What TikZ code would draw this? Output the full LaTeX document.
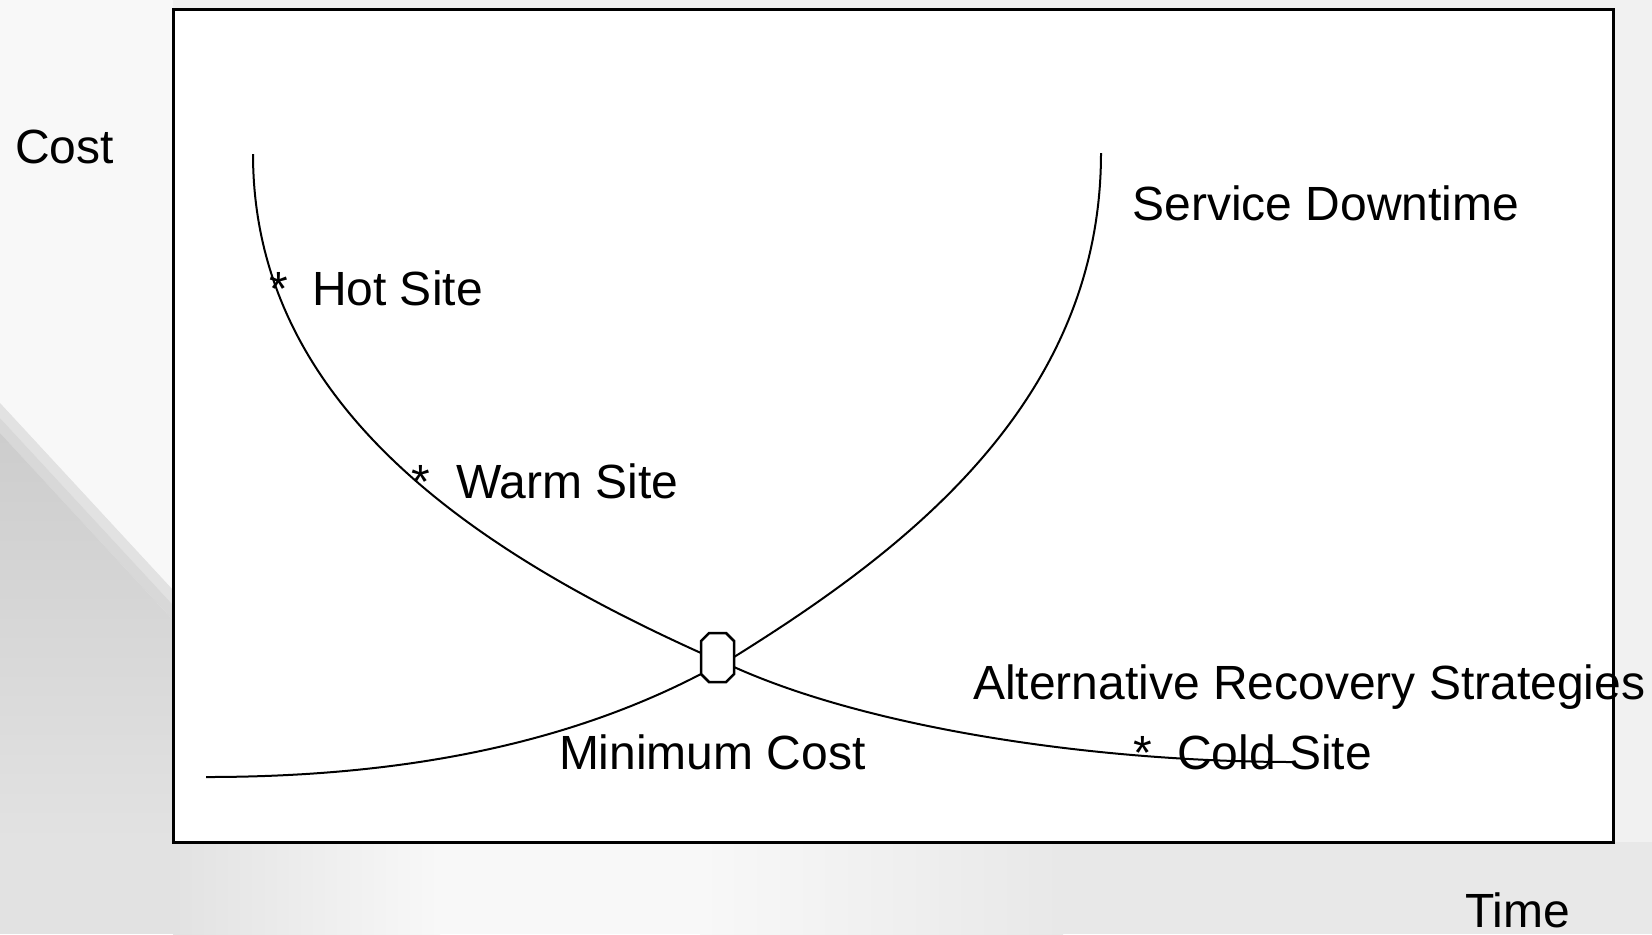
\documentclass[tikz,border=0pt]{standalone}
\usepackage{fontspec}
\setmainfont{Liberation Sans}
\definecolor{bgbase}{HTML}{F1F1F1}
\definecolor{bglight}{HTML}{F8F8F8}
\definecolor{bgdark}{HTML}{CDCDCD}
\definecolor{bgmid}{HTML}{E2E2E2}
\begin{document}
\begin{tikzpicture}[x=0.5pt,y=-0.5pt,
  lbl/.style={anchor=base west, inner sep=0pt, outer sep=0pt, font=\fontsize{24}{28}\selectfont},
  curve/.style={line width=1pt, black},
  frame/.style={line width=1.5pt, draw=black, fill=white}]
\useasboundingbox (0,0) rectangle (1652,934);
% background
\fill[bgbase] (0,0) rectangle (1652,934);
\fill[bglight] (0,0) -- (173,0) -- (173,590) -- (0,403) -- cycle;
\fill[bglight!50!bgdark] (0,403) -- (173,590) -- (173,605) -- (0,418) -- cycle;
\fill[bglight!25!bgdark] (0,418) -- (173,605) -- (173,620) -- (0,433) -- cycle;
\shade[top color=bgdark, bottom color=bgmid] (0,433) -- (173,620) -- (173,842) -- (0,842) -- cycle;
\fill[bgmid] (0,842) rectangle (173,934);
\shade[left color=bgmid, right color=bglight] (173,842) rectangle (440,934);
\fill[bglight] (440,842) rectangle (700,934);
\shade[left color=bglight, right color=bgmid!60!bgbase] (700,842) rectangle (1063,934);
\fill[bgmid!60!bgbase] (1063,842) rectangle (1652,934);
% frame
\draw[frame] (173.5,9.5) rectangle (1613.5,842);
% cost curve (recovery strategies)
\coordinate (c1top) at (253,154);
\coordinate (c1in) at (701,653);
\coordinate (c1out) at (734,667);
\coordinate (c1end) at (1295,762);
\draw[curve] (c1top) .. controls (253,404) and (473,550) .. (c1in) -- (c1out)
  .. controls (871,728.5) and (1095,762) .. (c1end);
% service downtime curve
\coordinate (c2start) at (206,777);
\coordinate (c2in) at (701,674);
\coordinate (c2out) at (734,657);
\coordinate (c2top) at (1101,153);
\draw[curve] (c2start) .. controls (406,777) and (568,743) .. (c2in) -- (c2out)
  .. controls (904,551) and (1101,403) .. (c2top);
% minimum cost marker
\draw[line width=1.25pt, fill=white] (709,633) -- (726,633) -- (734,641) -- (734,674) -- (726,682) -- (709,682) -- (701,674) -- (701,641) -- cycle;
% labels
\node[lbl] (cost) at (15,163) {Cost};
\node[lbl] (time) at (1465,927) {Time};
\node[lbl] (svc) at (1132.5,220) {Service Downtime};
\node[lbl] (hotstar) at (269,305.5) {*};
\node[lbl] (hot) at (312,305.5) {Hot Site};
\node[lbl] (warmstar) at (411.5,498) {*};
\node[lbl] (warm) at (456,498) {Warm Site};
\node[lbl] (alt) at (973,699.5) {Alternative Recovery Strategies};
\node[lbl] (mincost) at (559,769) {Minimum Cost};
\node[lbl] (coldstar) at (1133,769) {*};
\node[lbl] (cold) at (1177,769) {Cold Site};
\end{tikzpicture}
\end{document}
